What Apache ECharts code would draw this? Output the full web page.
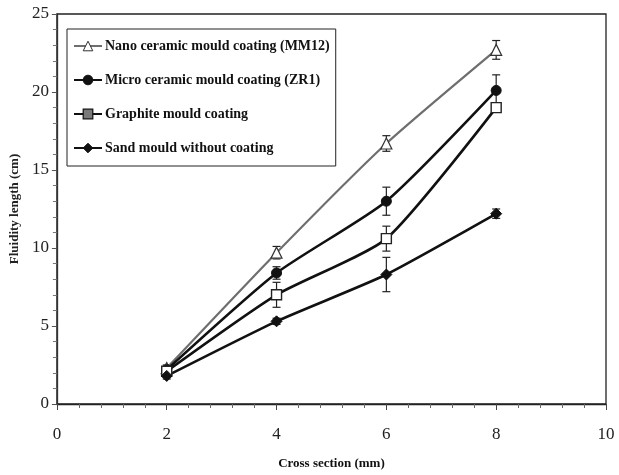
<!DOCTYPE html>
<html>
<head>
<meta charset="utf-8">
<script src="https://cdn.jsdelivr.net/npm/echarts@6/dist/echarts.min.js"></script>
<style>html,body{margin:0;padding:0;background:#fff}#c{width:619px;height:475px}</style>
</head>
<body>
<div id="c"></div>
<script>
var crossSection = [2, 4, 6, 8];
var seriesNames = ['Nano ceramic mould coating (MM12)', 'Micro ceramic mould coating (ZR1)', 'Graphite mould coating', 'Sand mould without coating'];
var nanoValues = [2.3, 9.7, 16.7, 22.7];
var nanoErrors = [0.2, 0.4, 0.5, 0.6];
var microValues = [2.2, 8.4, 13.0, 20.1];
var microErrors = [0.2, 0.4, 0.9, 1.0];
var graphiteValues = [2.1, 7.0, 10.6, 19.0];
var graphiteErrors = [0.2, 0.8, 0.8, 0.3];
var sandValues = [1.8, 5.3, 8.3, 12.2];
var sandErrors = [0.2, 0.2, 1.1, 0.3];
var xTicks = [0, 2, 4, 6, 8, 10];
var yTicks = [0, 5, 10, 15, 20, 25];

var FONT = '"Liberation Serif", "Times New Roman", serif';
var chart = echarts.init(document.getElementById('c'));

function pairs(vals) { return crossSection.map(function (x, i) { return [x, vals[i]]; }); }
function errData(vals, errs) { return crossSection.map(function (x, i) { return [x, vals[i], errs[i]]; }); }

function errSeries(vals, errs, color) {
  return {
    type: 'custom',
    data: errData(vals, errs),
    z: 1,
    silent: true,
    renderItem: function (params, api) {
      var x = api.value(0), y = api.value(1), e = api.value(2);
      var top = api.coord([x, y + e]);
      var bot = api.coord([x, y - e]);
      var w = 4;
      var st = { stroke: color, lineWidth: 1.2 };
      return {
        type: 'group',
        children: [
          { type: 'line', shape: { x1: top[0], y1: top[1], x2: bot[0], y2: bot[1] }, style: st },
          { type: 'line', shape: { x1: top[0] - w, y1: top[1], x2: top[0] + w, y2: top[1] }, style: st },
          { type: 'line', shape: { x1: bot[0] - w, y1: bot[1], x2: bot[0] + w, y2: bot[1] }, style: st }
        ]
      };
    }
  };
}

var lineSeries = [
  { name: seriesNames[0], vals: nanoValues, color: '#6e6e6e', symbol: 'triangle', size: 11,
    item: { color: '#ffffff', borderColor: '#333', borderWidth: 1.2 }, width: 2.2 },
  { name: seriesNames[1], vals: microValues, color: '#111', symbol: 'circle', size: 10,
    item: { color: '#111', borderColor: '#111', borderWidth: 1 }, width: 2.6 },
  { name: seriesNames[2], vals: graphiteValues, color: '#111', symbol: 'rect', size: 10,
    item: { color: '#ffffff', borderColor: '#222', borderWidth: 1.4 }, width: 2.6 },
  { name: seriesNames[3], vals: sandValues, color: '#111', symbol: 'diamond', size: 11,
    item: { color: '#111', borderColor: '#111', borderWidth: 1 }, width: 2.6 }
];

var legendItemStyles = [
  { color: '#ffffff', borderColor: '#333', borderWidth: 1 },
  { color: '#111', borderColor: '#111', borderWidth: 1 },
  { color: '#7a7a7a', borderColor: '#111', borderWidth: 1.2 },
  { color: '#111', borderColor: '#111', borderWidth: 1 }
];

var series = [];
series.push(errSeries(nanoValues, nanoErrors, '#222'));
series.push(errSeries(microValues, microErrors, '#222'));
series.push(errSeries(graphiteValues, graphiteErrors, '#222'));
series.push(errSeries(sandValues, sandErrors, '#222'));
lineSeries.forEach(function (s) {
  series.push({
    name: s.name,
    type: 'line',
    data: pairs(s.vals),
    smooth: 0.2,
    symbol: s.symbol,
    symbolSize: s.size,
    showAllSymbol: true,
    z: 3,
    lineStyle: { color: s.color, width: s.width },
    itemStyle: s.item,
    emphasis: { disabled: true }
  });
});

chart.setOption({
  animation: false,
  backgroundColor: '#ffffff',
  grid: { left: 56, right: 13, top: 14, bottom: 71, show: true, borderColor: '#222', borderWidth: 1.3, backgroundColor: 'transparent' },
  legend: {
    orient: 'vertical',
    left: 67,
    top: 29,
    padding: [10, 6, 11, 6],
    itemGap: 20,
    itemWidth: 28,
    itemHeight: 12,
    borderColor: '#222',
    borderWidth: 1,
    backgroundColor: '#fff',
    data: seriesNames.map(function (n, i) { return { name: n, itemStyle: legendItemStyles[i] }; }),
    textStyle: { fontFamily: FONT, fontWeight: 'bold', fontSize: 14, color: '#111', padding: [0, 0, 0, -2] }
  },
  xAxis: {
    type: 'value',
    min: xTicks[0],
    max: xTicks[xTicks.length - 1],
    interval: 2,
    name: 'Cross section (mm)',
    nameLocation: 'middle',
    nameGap: 53,
    nameTextStyle: { fontFamily: FONT, fontWeight: 'bold', fontSize: 13, color: '#111' },
    axisLine: { show: true, onZero: false, lineStyle: { color: '#222', width: 1.3 } },
    axisTick: { show: true, length: 6, lineStyle: { color: '#444' } },
    minorTick: { show: true, splitNumber: 5, length: 4, lineStyle: { color: '#666' } },
    splitLine: { show: false },
    axisLabel: { fontFamily: FONT, fontSize: 17, color: '#222', margin: 22 }
  },
  yAxis: {
    type: 'value',
    min: yTicks[0],
    max: yTicks[yTicks.length - 1],
    interval: 5,
    name: 'Fluidity length (cm)',
    nameLocation: 'middle',
    nameGap: 26,
    nameRotate: 90,
    nameTextStyle: { fontFamily: FONT, fontWeight: 'bold', fontSize: 13, color: '#222' },
    axisLine: { show: true, lineStyle: { color: '#333', width: 1.3 } },
    axisTick: { show: true, length: 5, lineStyle: { color: '#555' } },
    minorTick: { show: true, splitNumber: 5, length: 4, lineStyle: { color: '#777' } },
    splitLine: { show: false },
    axisLabel: { fontFamily: FONT, fontSize: 17, color: '#222', margin: 8 }
  },
  series: series
});
</script>
</body>
</html>
